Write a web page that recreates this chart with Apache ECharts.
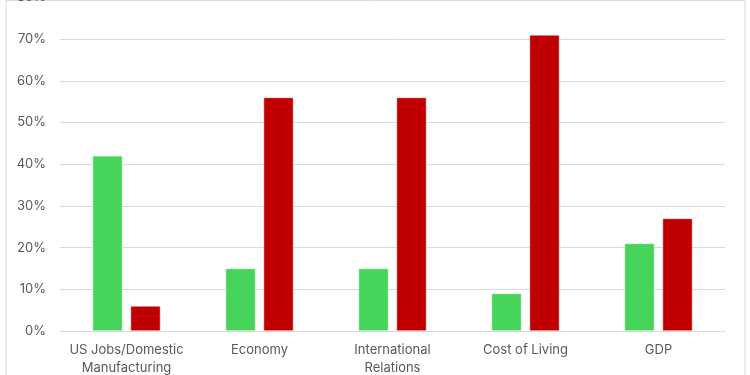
<!DOCTYPE html>
<html>
<head>
<meta charset="utf-8">
<script src="https://cdn.jsdelivr.net/npm/echarts@6/dist/echarts.min.js"></script>
<style>html,body{margin:0;padding:0;background:#fff;}#c{width:750px;height:375px;}</style>
</head>
<body>
<div id="c"></div>
<script>
const categories = ['US Jobs/Domestic\nManufacturing', 'Economy', 'International\nRelations', 'Cost of Living', 'GDP'];
const greenValues = [42, 15, 15, 9, 21];
const redValues = [6, 56, 56, 71, 27];
const yTicks = { min: 0, max: 80, interval: 10 };

const chart = echarts.init(document.getElementById('c'), null, { renderer: 'canvas' });
chart.setOption({
  animation: false,
  backgroundColor: '#fff',
  textStyle: { fontFamily: 'Inter, "Open Sans", sans-serif' },
  graphic: [{
    type: 'rect', left: 3.5, top: -2, shape: { width: 739, height: 380 },
    style: { fill: 'none', stroke: '#d9d9d9', lineWidth: 1 }, silent: true
  }],
  grid: { left: 60, right: 25, top: -2.6, bottom: 44, containLabel: false, outerBoundsMode: 'none' },
  xAxis: {
    type: 'category', data: categories,
    axisLine: { show: true, lineStyle: { color: '#d9d9d9' } },
    axisTick: { show: false },
    axisLabel: { color: '#595959', fontSize: 13, lineHeight: 18, margin: 10, interval: 0, hideOverlap: false }
  },
  yAxis: {
    type: 'value', min: yTicks.min, max: yTicks.max, interval: yTicks.interval,
    axisLine: { show: false }, axisTick: { show: false },
    splitLine: { lineStyle: { color: '#d9d9d9' } },
    axisLabel: { color: '#595959', fontSize: 13, margin: 14, formatter: '{value}%' }
  },
  series: [
    { type: 'bar', data: greenValues, barWidth: '22.5%', barGap: '27%',
      itemStyle: { color: '#47d45a', borderColor: '#ffffff', borderWidth: 0.5 } },
    { type: 'bar', data: redValues, barWidth: '22.5%', barGap: '27%',
      itemStyle: { color: '#c00000', borderColor: '#ffffff', borderWidth: 0.5 } }
  ]
});
</script>
</body>
</html>
